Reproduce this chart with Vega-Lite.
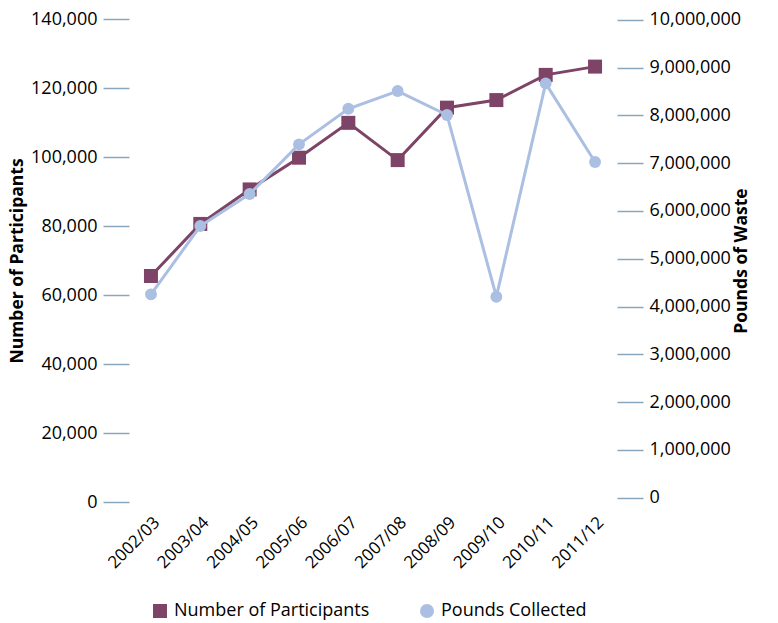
{
  "$schema": "https://vega.github.io/schema/vega-lite/v6.json",
  "autosize": {"type": "none"},
  "width": 488,
  "height": 483,
  "padding": {"left": 129, "top": 19, "right": 161, "bottom": 121},
  "background": "white",
  "config": {
    "view": {"stroke": null},
    "font": "Open Sans",
    "axis": {"labelFont": "Open Sans", "titleFont": "Open Sans", "labelColor": "#000000", "titleColor": "#000000", "labelFontSize": 18, "titleFontSize": 17.5, "titleFontWeight": "bold", "grid": false},
    "legend": {"labelFont": "Open Sans", "labelFontSize": 18, "labelColor": "#000000", "labelLimit": 400}
  },
  "data": {
    "values": [
      {"year": "2002/03", "participants": 65500, "pounds": 4255000},
      {"year": "2003/04", "participants": 80600, "pounds": 5684000},
      {"year": "2004/05", "participants": 90600, "pounds": 6353000},
      {"year": "2005/06", "participants": 99800, "pounds": 7393000},
      {"year": "2006/07", "participants": 109900, "pounds": 8138000},
      {"year": "2007/08", "participants": 99100, "pounds": 8508000},
      {"year": "2008/09", "participants": 114300, "pounds": 8006000},
      {"year": "2009/10", "participants": 116500, "pounds": 4205000},
      {"year": "2010/11", "participants": 123800, "pounds": 8669000},
      {"year": "2011/12", "participants": 126200, "pounds": 7023000}
    ]
  },
  "encoding": {
    "x": {
      "field": "year", "type": "ordinal", "sort": null,
      "scale": {"type": "point", "padding": 0.445},
      "axis": {"title": null, "labelAngle": -45, "domain": false, "ticks": false, "labelPadding": 12, "labelFontSize": 17}
    }
  },
  "layer": [
    {
      "encoding": {
        "y": {
          "field": "participants", "type": "quantitative",
          "scale": {"domain": [0, 140000], "nice": false},
          "axis": {"orient": "left", "values": [0, 20000, 40000, 60000, 80000, 100000, 120000, 140000], "format": ",d", "tickSize": 26, "tickColor": "#8aa6bd", "tickWidth": 1.5, "domain": false, "labelPadding": 6, "title": "Number of Participants", "titlePadding": 4}
        }
      },
      "layer": [
        {
          "mark": {"type": "line", "color": "#7e4468", "strokeWidth": 3},
          "encoding": {}
        },
        {
          "mark": {"type": "point", "filled": true, "opacity": 1, "size": 196},
          "encoding": {
            "color": {"datum": "Number of Participants", "type": "nominal", "scale": {"domain": ["Number of Participants", "Pounds Collected"], "range": ["#7e4468", "#abbfe3"]}, "legend": {"title": null, "orient": "none", "direction": "horizontal", "legendX": 22, "legendY": 583, "symbolSize": 196, "columnPadding": 48, "labelOffset": 5}},
            "shape": {"datum": "Number of Participants", "type": "nominal", "scale": {"domain": ["Number of Participants", "Pounds Collected"], "range": ["square", "circle"]}}
          }
        }
      ]
    },
    {
      "encoding": {
        "y": {
          "field": "pounds", "type": "quantitative",
          "scale": {"domain": [-90000, 10015000], "nice": false, "zero": false},
          "axis": {"orient": "right", "values": [0, 1000000, 2000000, 3000000, 4000000, 5000000, 6000000, 7000000, 8000000, 9000000, 10000000], "format": ",d", "tickSize": 26, "tickColor": "#8aa6bd", "tickWidth": 1.5, "domain": false, "labelPadding": 6, "title": "Pounds of Waste", "titleAngle": 270, "titlePadding": 10}
        }
      },
      "layer": [
        {
          "mark": {"type": "line", "color": "#abbfe3", "strokeWidth": 3},
          "encoding": {}
        },
        {
          "mark": {"type": "point", "filled": true, "opacity": 1, "size": 141},
          "encoding": {
            "color": {"datum": "Pounds Collected", "type": "nominal"},
            "shape": {"datum": "Pounds Collected", "type": "nominal"}
          }
        }
      ]
    }
  ],
  "resolve": {"scale": {"y": "independent"}, "axis": {"y": "independent"}}
}
